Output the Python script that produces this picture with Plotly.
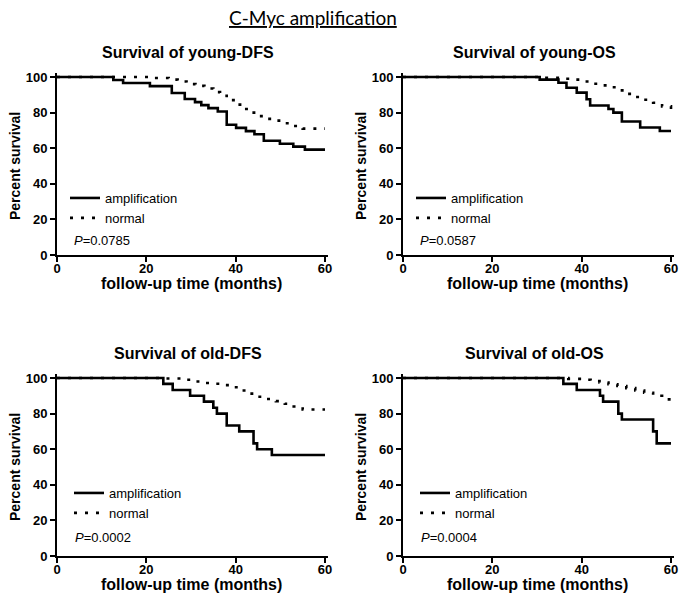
import plotly.graph_objects as go

# --- data (months, percent survival) ---
young_dfs_amp_t = [0, 12.6, 14.8, 20.8, 25.7, 28.6, 30.9, 32.3, 33.9, 36.0, 38.0, 40.1, 42.3, 44.2, 46.3, 49.9, 52.9, 55.5, 60]
young_dfs_amp_s = [100, 98.3, 96.6, 94.9, 91.0, 87.6, 85.9, 84.2, 82.5, 80.6, 73.2, 71.4, 69.6, 67.8, 64.2, 62.5, 60.9, 59.2, 59.2]
young_dfs_norm_t = [0, 21, 25, 27, 29, 31, 33, 35, 36.5, 38, 40, 41.5, 43, 45, 47, 49, 51, 53, 55, 60]
young_dfs_norm_s = [100, 99.4, 98.5, 97.5, 96.0, 95.0, 93.5, 91.5, 89.5, 87.0, 84.5, 82.0, 80.0, 78.0, 76.5, 75.5, 74.0, 72.5, 71.0, 71.0]

young_os_amp_t = [0, 30.6, 34.8, 36.6, 38.9, 41.1, 41.9, 46.0, 47.1, 49.0, 53.1, 57.5, 60]
young_os_amp_s = [100, 98.5, 96.8, 94.0, 91.2, 87.5, 84.0, 82.0, 80.0, 75.0, 71.6, 69.7, 69.7]
young_os_norm_t = [0, 31, 35, 38, 40, 42, 44, 46, 48, 50, 52, 54, 56, 58, 60]
young_os_norm_s = [100, 99.5, 99.0, 98.5, 97.5, 96.2, 95.3, 94.2, 92.5, 90.5, 88.8, 87.2, 85.5, 83.5, 81.5]

old_dfs_amp_t = [0, 23.8, 25.9, 29.8, 32.9, 35.0, 35.8, 38.0, 40.8, 44.0, 44.8, 48.1, 60]
old_dfs_amp_s = [100, 96.7, 93.3, 90.0, 86.7, 83.3, 80.0, 73.3, 70.0, 63.3, 60.0, 56.7, 56.7]
old_dfs_norm_t = [0, 24, 29, 31, 33, 35, 37, 39, 41, 43, 45, 47, 49, 51, 53, 55, 60]
old_dfs_norm_s = [100, 99.7, 99.0, 98.0, 97.2, 96.8, 96.0, 94.8, 93.0, 91.2, 89.5, 88.2, 87.0, 85.5, 84.0, 82.3, 82.3]

old_os_amp_t = [0, 35.9, 38.9, 44.1, 44.8, 48.2, 49.0, 56.0, 56.8, 60]
old_os_amp_s = [100, 96.7, 93.3, 90.0, 86.7, 80.0, 76.7, 70.0, 63.3, 63.3]
old_os_norm_t = [0, 37, 40, 42, 44, 46, 48, 50, 52, 54, 56, 58, 60]
old_os_norm_s = [100, 99.5, 99.0, 98.3, 97.5, 96.5, 95.5, 94.3, 93.0, 91.7, 90.0, 88.0, 88.0]

titles = ["Survival of young-DFS", "Survival of young-OS", "Survival of old-DFS", "Survival of old-OS"]
p_values = ["0.0785", "0.0587", "0.0002", "0.0004"]
series_names = ["amplification", "normal"]
x_ticks = [0, 20, 40, 60]
y_ticks = [0, 20, 40, 60, 80, 100]

panels = [
    (young_dfs_amp_t, young_dfs_amp_s, young_dfs_norm_t, young_dfs_norm_s),
    (young_os_amp_t, young_os_amp_s, young_os_norm_t, young_os_norm_s),
    (old_dfs_amp_t, old_dfs_amp_s, old_dfs_norm_t, old_dfs_norm_s),
    (old_os_amp_t, old_os_amp_s, old_os_norm_t, old_os_norm_s),
]

# --- geometry (pixels in the 690x612 window; the page body adds an 8px margin) ---
OFF = 8
W, H = 674, 596
LEFT = [57, 403, 57, 403]      # x = 0
BOTTOM = [255, 255, 556, 556]  # y = 0
PX_X = 268 / 60                # px per month
PX_Y = 178 / 100               # px per percent
X_MAX, Y_MAX = 60.6, 102
LEG_DX = [8, 8, 12, 12]
LEG_DY = [72, 72, 78, 78]
P_DX = [14.5, 14.5, 16, 16]
P_DY = [15, 15, 19, 19]

ARIAL = "Liberation Sans, Arial, sans-serif"
BLACK = "#000000"


def fx(p):
    return (p - OFF) / W


def fy(p):
    return 1 - (p - OFF) / H


def label(text, x, y, size, **kw):
    d = dict(text=text, x=fx(x), y=fy(y), xref="paper", yref="paper", showarrow=False,
             xanchor="center", yanchor="middle", font=dict(family=ARIAL, size=size, color=BLACK))
    d.update(kw)
    return d


fig = go.Figure()
annotations = []
layout = {}

for i, (at, a_s, nt, ns) in enumerate(panels):
    n = "" if i == 0 else str(i + 1)
    leg = "legend" + n
    left, bottom = LEFT[i], BOTTOM[i]
    right = left + X_MAX * PX_X
    top = bottom - Y_MAX * PX_Y

    fig.add_trace(go.Scatter(
        x=at, y=a_s, mode="lines", line=dict(color=BLACK, width=2.6, shape="hv"),
        name=series_names[0], xaxis="x" + n, yaxis="y" + n, legend=leg))
    fig.add_trace(go.Scatter(
        x=nt, y=ns, mode="lines", line=dict(color=BLACK, width=2.6, shape="hv", dash="3px,8px"),
        name=series_names[1], xaxis="x" + n, yaxis="y" + n, legend=leg))

    axis_common = dict(showgrid=False, zeroline=False, showline=True, linecolor=BLACK,
                       linewidth=2, ticks="outside", ticklen=5, tickwidth=2, tickcolor=BLACK,
                       automargin=False,
                       tickfont=dict(family=ARIAL, size=13, color=BLACK, weight="bold"))
    layout["xaxis" + n] = dict(axis_common, domain=[fx(left), fx(right)], range=[0, X_MAX],
                               tickvals=x_ticks, anchor="y" + n, ticklabelstandoff=-5)
    layout["yaxis" + n] = dict(axis_common, domain=[fy(bottom), fy(top)], range=[0, Y_MAX],
                               tickvals=y_ticks, anchor="x" + n)

    cx = left + 134
    annotations.append(label("<b>" + titles[i] + "</b>", cx - 3, bottom - 203, 16))
    annotations.append(label("<b>follow-up time (months)</b>", cx, bottom + 28, 16))
    annotations.append(label("<b>Percent survival</b>", left - 42, bottom - 89, 14, textangle=-90))
    annotations.append(label("<i>P</i>=" + p_values[i], left + P_DX[i], bottom - P_DY[i], 13,
                             xanchor="left"))
    layout[leg] = dict(x=fx(left + LEG_DX[i]), y=fy(bottom - LEG_DY[i]), xanchor="left", yanchor="top",
                       bgcolor="rgba(0,0,0,0)", itemwidth=30, tracegroupgap=0,
                       font=dict(family=ARIAL, size=13, color=BLACK))

annotations.append(dict(text="<u>C-Myc amplification</u>", x=fx(313), y=fy(17),
                        xref="paper", yref="paper", showarrow=False, xanchor="center", yanchor="middle",
                        font=dict(family="Lato, Open Sans, sans-serif", size=19, color=BLACK)))

fig.update_layout(**layout)
fig.update_layout(width=W, height=H, autosize=False, margin=dict(l=0, r=0, t=0, b=0, autoexpand=False),
                  paper_bgcolor="white", plot_bgcolor="white", showlegend=True,
                  annotations=annotations)

fig.write_html("out.html")
